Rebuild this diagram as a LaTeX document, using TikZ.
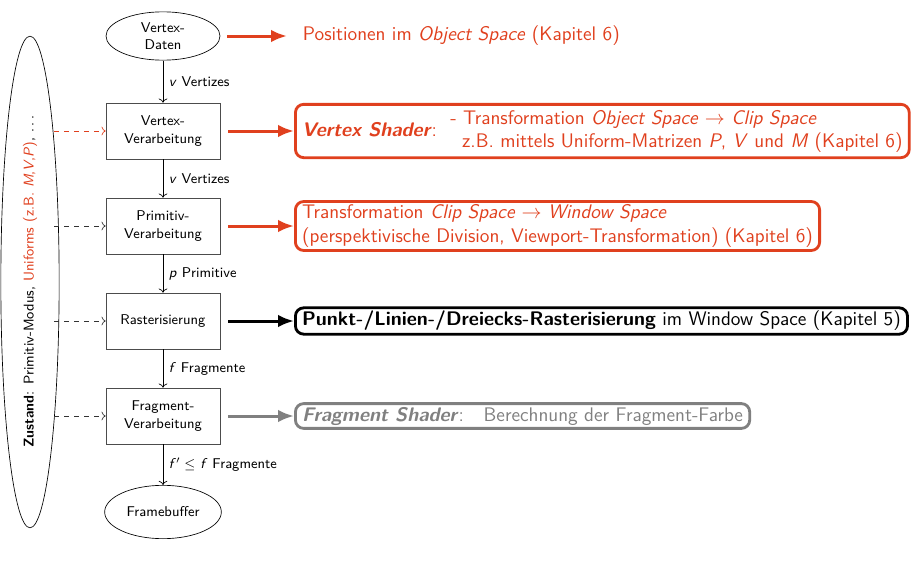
\documentclass[tikz,border=0pt]{standalone}
\usepackage{amsmath}
\usepackage{amssymb}
\usepackage{color}
\usepackage{tikz}
\usetikzlibrary{calc,arrows,arrows.meta,positioning,shapes.geometric}
\definecolor{hsred}{RGB}{224,64,30}
\definecolor{hsgray}{RGB}{128,128,128}
\renewcommand{\familydefault}{\sfdefault}
\tikzset{
  stage/.style={rectangle,draw=black!70,minimum width=68.4pt,minimum height=33.6pt,align=center,font=\fontsize{8.5}{10.5}\selectfont},
  endpoint/.style={ellipse,draw=black,minimum width=68.4pt,minimum height=29pt,align=center,inner sep=1pt,font=\fontsize{8.5}{10.5}\selectfont},
  flow/.style={->,black},
  edgelabel/.style={right,font=\fontsize{8.5}{10.5}\selectfont},
  feed/.style={->,dashed,black!80},
  outarrow/.style={-{Latex[length=9.5pt,width=7.5pt]},line width=1.8pt},
  infobox/.style={rectangle,rounded corners=5pt,line width=1.7pt,align=left,font=\fontsize{11.8}{14}\selectfont,inner xsep=4pt,inner ysep=2pt}
}
\begin{document}
\begin{tikzpicture}[x=0.6pt,y=-0.6pt]
\useasboundingbox (0,0) rectangle (919,568);
% pipeline
\node[endpoint](daten)at(163,36){Vertex-\\Daten};
\node[stage](vertex)at(163,131){Vertex-\\Verarbeitung};
\node[stage](primitiv)at(163,226){Primitiv-\\Verarbeitung};
\node[stage](raster)at(163,321){Rasterisierung};
\node[stage](fragment)at(163,416){Fragment-\\Verarbeitung};
\node[endpoint,minimum width=70pt,minimum height=32pt](fb)at(163,512){Framebuffer};
\draw[flow](daten)--node[edgelabel]{\textit{v} Vertizes}(vertex);
\draw[flow](vertex)--node[edgelabel]{\textit{v} Vertizes}(primitiv);
\draw[flow](primitiv)--node[edgelabel]{\textit{p} Primitive}(raster);
\draw[flow](raster)--node[edgelabel]{\textit{f} Fragmente}(fragment);
\draw[flow](fragment)--node[edgelabel]{\textit{f}$'\leq$ \textit{f} Fragmente}(fb);
% state
\node[ellipse,draw,minimum width=35pt,minimum height=295pt](zustand)at(30,282){};
\node[rotate=90,font=\fontsize{8.5}{10.5}\selectfont](zlabel)at(zustand.center){\textbf{Zustand}: Primitiv-Modus, \textcolor{hsred}{Uniforms (z.B. \textit{M},\textit{V},\textit{P})}, $\ldots$};
\foreach \s/\c in {vertex/hsred,primitiv/black!80,raster/black!80,fragment/black!80}
  \draw[feed,\c](zustand.center|-\s.west)++(24,0)--(\s.west);
% descriptions
\node[right,text=hsred,font=\fontsize{11.8}{14}\selectfont](pos)at(297,36){Positionen im \textit{Object Space} (Kapitel 6)};
\node[infobox,draw=hsred,text=hsred,anchor=west](vs)at(294,131){\textbf{\textit{Vertex Shader}}:\hspace{8pt}%
  \begin{tabular}{@{}l@{}}- Transformation \textit{Object Space} $\rightarrow$ \textit{Clip Space}\\
  \hspace{7pt}z.B. mittels Uniform-Matrizen \textit{P}, \textit{V} und \textit{M} (Kapitel 6)\end{tabular}};
\node[infobox,draw=hsred,text=hsred,anchor=west](clip)at(294,226){Transformation \textit{Clip Space} $\rightarrow$ \textit{Window Space}\\
  (perspektivische Division, Viewport-Transformation) (Kapitel 6)};
\node[infobox,draw=black,anchor=west](punkt)at(294,321){\textbf{Punkt-/Linien-/Dreiecks-Rasterisierung} im Window Space (Kapitel 5)};
\node[infobox,draw=hsgray,text=hsgray,anchor=west](fs)at(294,416){\textbf{\textit{Fragment Shader}}:\quad Berechnung der Fragment-Farbe};
\draw[outarrow,hsred](daten)++(64,0)--(287,36);
\draw[outarrow,hsred](vertex.east)++(8,0)--(vs.west);
\draw[outarrow,hsred](primitiv.east)++(8,0)--(clip.west);
\draw[outarrow,black](raster.east)++(8,0)--(punkt.west);
\draw[outarrow,hsgray](fragment.east)++(8,0)--(fs.west);
\end{tikzpicture}
\end{document}
